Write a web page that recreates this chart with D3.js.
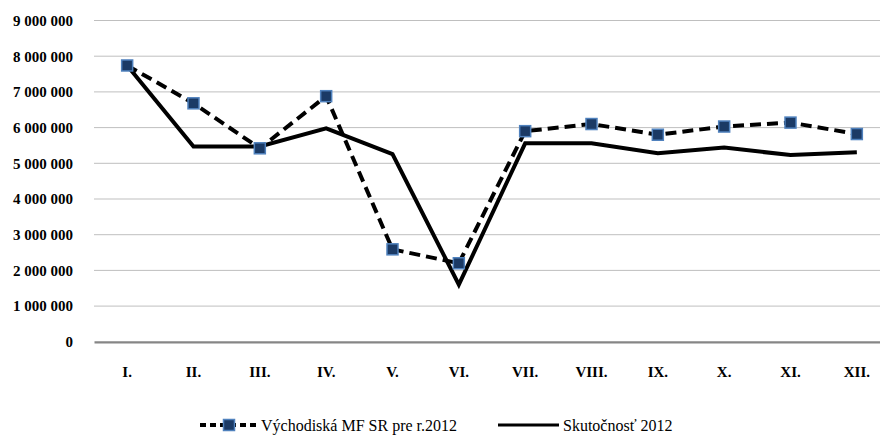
<!DOCTYPE html>
<html><head><meta charset="utf-8">
<script src="https://cdn.jsdelivr.net/npm/d3@7"></script>
<style>body{margin:0;background:#fff}svg{display:block}</style>
</head><body>
<svg id="c" width="880" height="437"></svg>
<script>
const categories = ["I.","II.","III.","IV.","V.","VI.","VII.","VIII.","IX.","X.","XI.","XII."];
const planValues = [7740000,6680000,5420000,6880000,2590000,2200000,5900000,6100000,5800000,6030000,6140000,5820000];
const actualValues = [7740000,5470000,5470000,5980000,5260000,1600000,5560000,5560000,5280000,5440000,5230000,5310000];
const yTicks = [0,1000000,2000000,3000000,4000000,5000000,6000000,7000000,8000000,9000000];
const seriesNames = ["Východiská MF SR pre r.2012","Skutočnosť 2012"];

const svg = d3.select("#c");
const font = "'Liberation Serif','Times New Roman',serif";
const x = d3.scaleBand().domain(categories).range([94, 890]);
const y = d3.scaleLinear().domain([0, 9000000]).range([341.8, 20.5]);
const fmt = v => d3.format(",")(v).replace(/,/g, " ");

// gridlines
svg.append("g").selectAll("line").data(yTicks.filter(d => d > 0)).join("line")
  .attr("x1", 94).attr("x2", 890)
  .attr("y1", d => y(d)).attr("y2", d => y(d))
  .attr("stroke", "#bfbfbf").attr("stroke-width", 1);

// y axis labels
const yAxis = d3.axisLeft(y).tickValues(yTicks).tickFormat(fmt).tickSize(0).tickPadding(0);
const ya = svg.append("g").attr("transform", "translate(73,0)").call(yAxis);
ya.select(".domain").remove();
ya.selectAll("text").attr("font-family", font).attr("font-weight", "bold").attr("font-size", 15).attr("fill", "#000");

// x axis
const xAxis = d3.axisBottom(x).tickSize(0).tickPadding(0);
const xa = svg.append("g").attr("transform", `translate(0,${y(0)})`).call(xAxis);
xa.select(".domain").attr("stroke", "#868686").attr("stroke-width", 2.2);
xa.selectAll("text").attr("font-family", font).attr("font-weight", "bold").attr("font-size", 15).attr("fill", "#000").attr("dy", 0).attr("y", 35);

const cx = d => x(d) + x.bandwidth() / 2;
const line = vals => d3.line().x((d, i) => cx(categories[i])).y(d => y(d))(vals);

svg.append("path").attr("d", line(actualValues)).attr("fill", "none")
  .attr("stroke", "#000").attr("stroke-width", 4).attr("stroke-linejoin", "miter");
svg.append("path").attr("d", line(planValues)).attr("fill", "none")
  .attr("stroke", "#000").attr("stroke-width", 4).attr("stroke-dasharray", "11,6").attr("stroke-linejoin", "round");

const ms = 11;
svg.append("g").selectAll("rect").data(planValues).join("rect")
  .attr("x", (d, i) => cx(categories[i]) - ms / 2).attr("y", d => y(d) - ms / 2)
  .attr("width", ms).attr("height", ms)
  .attr("fill", "#1b3a65").attr("stroke", "#4f81bd").attr("stroke-width", 1.5);

// legend
const ly = 425;
const lg = svg.append("g");
lg.append("line").attr("x1", 200).attr("x2", 257).attr("y1", ly).attr("y2", ly)
  .attr("stroke", "#000").attr("stroke-width", 4).attr("stroke-dasharray", "6,4");
lg.append("rect").attr("x", 229 - ms / 2).attr("y", ly - ms / 2).attr("width", ms).attr("height", ms)
  .attr("fill", "#1b3a65").attr("stroke", "#4f81bd").attr("stroke-width", 1.5);
lg.append("text").attr("x", 261).attr("y", ly).attr("dy", "0.35em").text(seriesNames[0])
  .attr("font-family", font).attr("font-size", 16);
lg.append("line").attr("x1", 498).attr("x2", 559).attr("y1", ly).attr("y2", ly)
  .attr("stroke", "#000").attr("stroke-width", 3);
lg.append("text").attr("x", 563).attr("y", ly).attr("dy", "0.35em").text(seriesNames[1])
  .attr("font-family", font).attr("font-size", 16);
</script>
</body></html>
